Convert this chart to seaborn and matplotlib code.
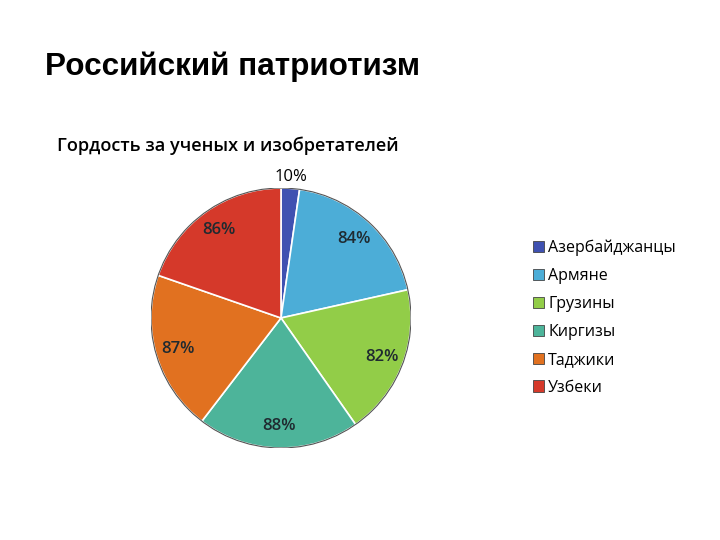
import matplotlib
matplotlib.use("Agg")
import matplotlib.pyplot as plt
import seaborn as sns
import numpy as np
from matplotlib.patches import Patch, Circle

sns.set_theme(style="white")
plt.rcParams['font.family'] = ['Open Sans', 'DejaVu Sans']

categories = ["Азербайджанцы", "Армяне", "Грузины", "Киргизы", "Таджики", "Узбеки"]
values = [10, 84, 82, 88, 87, 86]
colors = ["#3F51B1", "#4CADD7", "#92CD48", "#4DB49A", "#E17120", "#D5392A"]
title = "Российский патриотизм"
subtitle = "Гордость за ученых и изобретателей"

fig = plt.figure(figsize=(7.2, 5.4), dpi=100)
fig.patch.set_facecolor("white")

R = 130
cx, cy = 281, 318
ax = fig.add_axes([(cx - R) / 720, (540 - cy - R) / 540, 2 * R / 720, 2 * R / 540])

total = sum(values)
wedges, texts, autotexts = ax.pie(
    values, colors=colors, startangle=90, counterclock=False,
    autopct=lambda p: f"{round(p * total / 100)}%", pctdistance=0.83,
    wedgeprops=dict(edgecolor="white", linewidth=1.2),
    textprops=dict(fontsize=12, color="#1f2a30", fontweight="semibold"),
    radius=1.0,
)
ax.add_patch(Circle((0, 0), 1.0, fill=False, edgecolor="#555555", linewidth=0.8))

# first (small) label outside
w0 = wedges[0]
ang = np.deg2rad((w0.theta1 + w0.theta2) / 2)
autotexts[0].set_position((1.09 * np.cos(ang), 1.09 * np.sin(ang)))
autotexts[0].set_fontweight("normal")
autotexts[0].set_color("black")
ax.set_xlim(-1, 1)
ax.set_ylim(-1, 1)
ax.set_aspect("equal")

handles = [Patch(facecolor=c, edgecolor="#444444", linewidth=0.6) for c in colors]
fig.legend(handles, categories, loc="upper left", bbox_to_anchor=(525 / 720, 1 - 232 / 540),
           frameon=False, fontsize=11.5, handlelength=0.7, handleheight=0.7,
           handletextpad=0.25, labelspacing=0.74, borderpad=0, labelcolor="black")

fig.text(45 / 720, 1 - 67 / 540, title, fontsize=22.7, fontweight="bold",
         family=["Liberation Sans", "DejaVu Sans"], va="center", ha="left", color="black")
fig.text(57 / 720, 1 - 146 / 540, subtitle, fontsize=13.1, fontweight="semibold",
         va="center", ha="left", color="black")

fig.savefig("out.png", dpi=100, facecolor="white")
